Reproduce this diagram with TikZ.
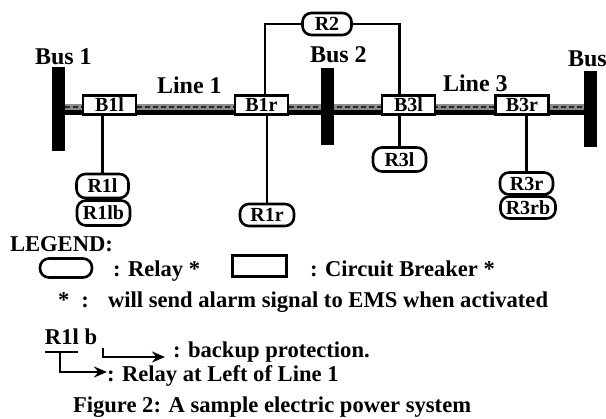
\documentclass[tikz,border=0pt]{standalone}
\usepackage{fontspec}
\setmainfont{Liberation Serif}
\usetikzlibrary{arrows.meta}
\tikzset{
  wire/.style={line width=2.4pt},
  busbar/.style={draw=none,fill=black,rectangle,minimum width=13pt,inner sep=0pt,outer sep=0pt},
  breaker/.style={draw,line width=2.4pt,fill=white,rectangle,inner sep=0pt,outer sep=0pt,minimum width=53pt,minimum height=19pt,font=\fontsize{20}{20}\selectfont\bfseries},
  relay/.style={draw,line width=2.6pt,fill=white,rectangle,rounded corners=9pt,inner sep=0pt,outer sep=0pt,minimum height=22pt,font=\fontsize{20}{20}\selectfont\bfseries},
  lbl/.style={anchor=base west,inner sep=0pt,outer sep=0pt},
  big/.style={lbl,font=\fontsize{24}{25}\selectfont\bfseries},
  mid/.style={lbl,font=\fontsize{22.6}{24}\selectfont\bfseries},
  legarrow/.style={line width=2.4pt,-{Stealth[length=13pt,width=11pt]}}
}
\begin{document}
\begin{tikzpicture}[x=1pt,y=-1pt]
\useasboundingbox (0,0) rectangle (606,419);
% buses
\node[busbar,minimum height=84pt] (bus1) at (58.5,109) {};
\node[busbar,minimum height=77pt] (bus2) at (327.5,106.5) {};
\node[busbar,minimum height=76pt] (bus3) at (590.5,109) {};
% line
\draw[line width=6pt,black] (bus1.east |- 0,112.5) -- (bus3.west |- 0,112.5);
\draw[line width=6pt,black!45] (bus1.east |- 0,107) -- (bus3.west |- 0,107);
\draw[line width=2.5pt,black!85,dash pattern=on 5pt off 3pt] (bus1.east |- 0,107) -- (bus3.west |- 0,107);
\node[busbar,minimum height=77pt] at (327.5,106.5) {};
% breakers
\node[breaker] (b1l) at (109.5,105) {B1l};
\node[breaker] (b1r) at (261.5,105) {B1r};
\node[breaker] (b3l) at (408.5,105) {B3l};
\node[breaker] (b3r) at (522,105) {B3r};
% relays
\node[relay,minimum width=49pt] (r2) at (327,24) {R2};
\node[relay,minimum width=52pt,minimum height=24pt] (r1l) at (102.5,186) {R1l};
\node[relay,minimum width=53pt,minimum height=25pt] (r1lb) at (103.5,213) {R1lb};
\node[relay,minimum width=54pt] (r1r) at (267,215) {R1r};
\node[relay,minimum width=53pt,minimum height=24pt] (r3l) at (399.5,159.5) {R3l};
\node[relay,minimum width=53pt] (r3r) at (526.5,183.5) {R3r};
\node[relay,minimum width=55pt] (r3rb) at (528,207.5) {R3rb};
% connectors
\draw[wire] (r2.west) -| ([xshift=3.5pt]b1r.north);
\draw[wire] (r2.east) -| (b3l.north -| r3l.north);
\draw[wire] (r1l.north) -- (r1l.north |- b1l.south);
\draw[wire] (r1r.north) -- (r1r.north |- b1r.south);
\draw[wire] (r3l.north) -- (r3l.north |- b3l.south);
\draw[wire] (r3r.north) -- (r3r.north |- b3r.south);
% labels
\node[big] (t1) at (35,65) {Bus 1};
\node[big] (t2) at (310,63) {Bus 2};
\node[big] (t3) at (568,67) {Bus};
\node[big] (t4) at (157,94) {Line 1};
\node[big] (t5) at (443,92) {Line 3};
% legend
\node[mid] (l0) at (10,252) {LEGEND:};
\node[relay,minimum width=52pt,minimum height=19pt] (lr) at (66,268) {};
\node[mid] (l1) at (113,277) {: Relay *};
\node[breaker,minimum height=21pt,minimum width=54pt] (lb) at (259.5,266) {};
\node[mid] (l2) at (310,277) {: Circuit Breaker *};
\node[mid] (l3) at (58,308) {*\hspace{12pt}:};
\node[mid] (l4) at (108,308) {will send alarm signal to EMS when activated};
\node[mid] (l5) at (45,345) {R1l b};
\coordinate (u1) at (45,352);
\coordinate (u2) at (78,352);
\draw[line width=2pt] (u1) -- (u2);
\node[mid] (l6) at (173,358) {: backup protection.};
\node[mid] (l7) at (107,382) {: Relay at Left of Line 1};
\coordinate (a1) at (103,348);
\coordinate (a1e) at (165,357);
\coordinate (a2) at (60,352);
\coordinate (a2e) at (107,372);
\draw[legarrow] (a1) |- (a1e);
\draw[legarrow] (a2) |- (a2e);
\node[mid] (cap) at (73,413) {Figure 2: A sample electric power system};
\end{tikzpicture}
\end{document}
